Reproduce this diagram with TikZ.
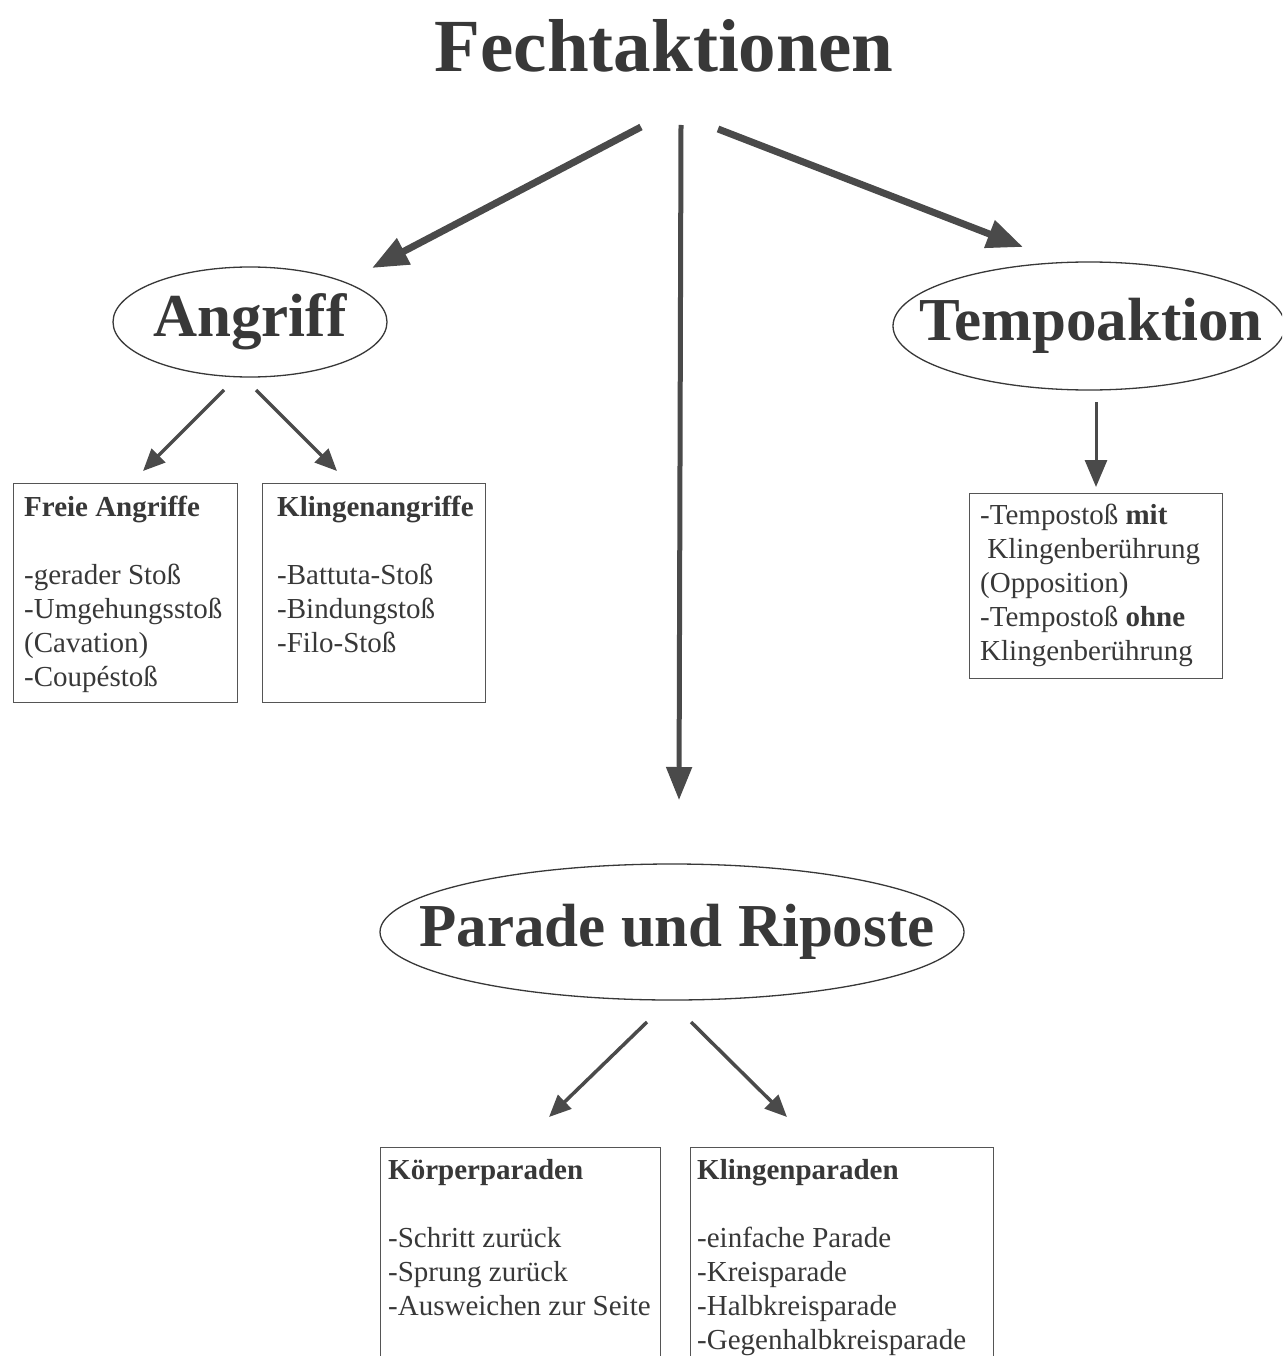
\documentclass[tikz,border=0pt]{standalone}
\usepackage{fontspec}
\setmainfont{Liberation Serif}
\usetikzlibrary{shapes.geometric,arrows.meta}
\definecolor{ink}{HTML}{383838}
\definecolor{linegray}{HTML}{4A4A4A}
\definecolor{boxgray}{HTML}{555555}
\tikzset{
  titletext/.style={text=ink,font=\fontsize{75}{80}\selectfont\bfseries,inner sep=0pt},
  oval/.style={ellipse,draw=ink,line width=1.3pt,inner sep=0pt},
  ovaltext/.style={text=ink,inner sep=0pt,font=\fontsize{61}{66}\selectfont\bfseries},
  itembox/.style={draw=boxgray,line width=1.4pt,inner sep=0pt,anchor=north west},
  itemtext/.style={text=ink,align=left,inner sep=0pt,anchor=north west,
    font=\fontsize{29}{34}\selectfont},
  bigarrow/.style={draw=linegray,line width=7pt,-{Triangle[length=36pt,width=28pt]}},
  midarrow/.style={draw=linegray,line width=5pt,-{Triangle[length=33pt,width=25pt]}},
  smallarrow/.style={draw=linegray,line width=3.5pt,-{Triangle[length=22pt,width=19pt]}},
  tempoarrow/.style={draw=linegray,line width=3pt,-{Triangle[length=27pt,width=22pt]}}
}
\begin{document}
\begin{tikzpicture}[x=1pt,y=-1pt]
\useasboundingbox (0,0) rectangle (1282,1356);
\clip (0,0) rectangle (1282,1356);
\fill[white] (0,0) rectangle (1282,1356);

% title and ovals
\node[titletext] (title) at (664,46) {Fechtaktionen};
\node[oval,minimum width=274pt,minimum height=110pt] (angriff) at (250,322) {};
\node[ovaltext] (angrifftxt) at (angriff.center) {Angriff};
\node[oval,minimum width=392pt,minimum height=128pt] (tempo) at (1089,326) {};
\node[ovaltext] (tempotxt) at (1091,326) {Tempoaktion};
\node[oval,minimum width=584pt,minimum height=136pt] (parade) at (672,932) {};
\node[ovaltext] (paradetxt) at (677,932) {Parade und Riposte};

% boxes
\node[itembox,minimum width=224pt,minimum height=219pt] (freie) at (13,483) {};
\node[itemtext] (freietxt) at (24,496) {\textbf{Freie Angriffe}\\[34pt]-gerader Stoß\\-Umgehungsstoß\\(Cavation)\\-Coupéstoß};

\node[itembox,minimum width=223pt,minimum height=219pt] (klingen) at (262,483) {};
\node[itemtext] (klingentxt) at (277,496) {\textbf{Klingenangriffe}\\[34pt]-Battuta-Stoß\\-Bindungstoß\\-Filo-Stoß};

\node[itembox,minimum width=253pt,minimum height=185pt] (tbox) at (969,493) {};
\node[itemtext] (tboxtxt) at (980,504) {-Tempostoß \textbf{mit}\\\ Klingenberührung\\(Opposition)\\-Tempostoß \textbf{ohne}\\Klingenberührung};

\node[itembox,minimum width=280pt,minimum height=260pt] (koerper) at (380,1147) {};
\node[itemtext] (koerpertxt) at (388,1159) {\textbf{Körperparaden}\\[34pt]-Schritt zurück\\-Sprung zurück\\-Ausweichen zur Seite};

\node[itembox,minimum width=303pt,minimum height=260pt] (kparaden) at (690,1147) {};
\node[itemtext] (kparadentxt) at (697,1159) {\textbf{Klingenparaden}\\[34pt]-einfache Parade\\-Kreisparade\\-Halbkreisparade\\-Gegenhalbkreisparade};

% arrow end points
\coordinate (tA) at (641,127);
\coordinate (aA) at (372,268);
\coordinate (tP) at (681,125);
\coordinate (pP) at (679,800);
\coordinate (tT) at (718,129);
\coordinate (eT) at (1023,247);
\coordinate (a1) at (224,390);
\coordinate (f1) at (143,471);
\coordinate (a2) at (256,390);
\coordinate (k1) at (337,471);
\coordinate (t1) at (1096,402);
\coordinate (b1) at (1096,487);
\coordinate (p1) at (647,1022);
\coordinate (kp1) at (549,1117);
\coordinate (p2) at (691,1022);
\coordinate (kp2) at (787,1117);

\draw[bigarrow] (tA) -- (aA);
\draw[bigarrow] (tT) -- (eT);
\draw[midarrow] (tP) -- (pP);
\draw[smallarrow] (a1) -- (f1);
\draw[smallarrow] (a2) -- (k1);
\draw[tempoarrow] (t1) -- (b1);
\draw[smallarrow] (p1) -- (kp1);
\draw[smallarrow] (p2) -- (kp2);
\end{tikzpicture}
\end{document}
